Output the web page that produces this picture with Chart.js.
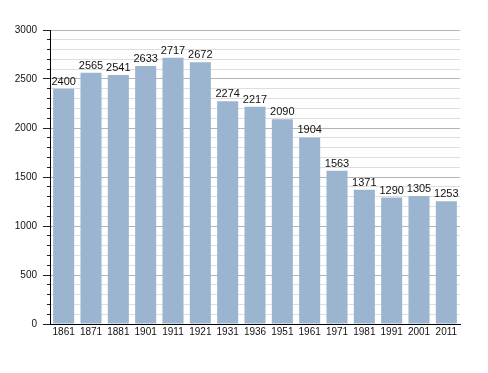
<!DOCTYPE html>
<html>
<head>
<meta charset="utf-8">
<script src="https://cdn.jsdelivr.net/npm/chart.js@4"></script>
<style>
  html, body { margin: 0; padding: 0; background: #fff; }
  #wrap { width: 488px; height: 373px; }
</style>
</head>
<body>
<div id="wrap"><canvas id="graf"></canvas></div>
<script>
const annees = ["1861", "1871", "1881", "1901", "1911", "1921", "1931", "1936", "1951", "1961", "1971", "1981", "1991", "2001", "2011"];
const population = [2400, 2565, 2541, 2633, 2717, 2672, 2274, 2217, 2090, 1904, 1563, 1371, 1290, 1305, 1253];
const yMax = 3000;
const yMajor = 500;
const yMinor = 100;

// étiquettes au-dessus des barres
const etiquettes = {
  id: "etiquettes",
  afterDatasetsDraw(chart) {
    const ctx = chart.ctx;
    const meta = chart.getDatasetMeta(0);
    ctx.save();
    ctx.font = "11px 'Liberation Sans', Arial, sans-serif";
    ctx.fillStyle = "#111";
    ctx.textAlign = "center";
    ctx.textBaseline = "alphabetic";
    meta.data.forEach((bar, i) => {
      ctx.fillText(String(population[i]), bar.x, bar.y - 4);
    });
    ctx.restore();
  }
};

new Chart(document.getElementById("graf"), {
  type: "bar",
  data: {
    labels: annees,
    datasets: [{
      data: population,
      backgroundColor: "#9bb5d1",
      borderWidth: 0,
      barPercentage: 0.77,
      categoryPercentage: 1
    }]
  },
  options: {
    responsive: true,
    maintainAspectRatio: false,
    animation: false,
    layout: { padding: { top: 30, right: 28, bottom: 29, left: 0 } },
    plugins: {
      legend: { display: false },
      tooltip: { enabled: false }
    },
    scales: {
      x: {
        afterFit: s => { s.height = 20; },
        grid: { display: false, drawTicks: false },
        border: { display: true, color: "#000", width: 1 },
        ticks: {
          color: "#111",
          padding: 2,
          maxRotation: 0,
          autoSkip: false,
          font: { family: "'Liberation Sans', Arial, sans-serif", size: 10 }
        }
      },
      y: {
        min: 0,
        max: yMax,
        afterFit: s => { s.width = 50; },
        border: { display: true, color: "#000", width: 1 },
        grid: {
          color: c => (c.tick && c.tick.value % yMajor === 0) ? "#b4b4b4" : "#dedede",
          tickColor: "#222",
          tickLength: 7,
          tickBorderDash: c => (c.tick && c.tick.value % yMajor === 0) ? [] : [0, 4, 3, 0]
        },
        ticks: {
          stepSize: yMinor,
          autoSkip: false,
          padding: 6,
          color: "#111",
          font: { family: "'Liberation Sans', Arial, sans-serif", size: 10 },
          callback: v => (v % yMajor === 0 ? v : "")
        }
      }
    }
  },
  plugins: [etiquettes]
});
</script>
</body>
</html>
